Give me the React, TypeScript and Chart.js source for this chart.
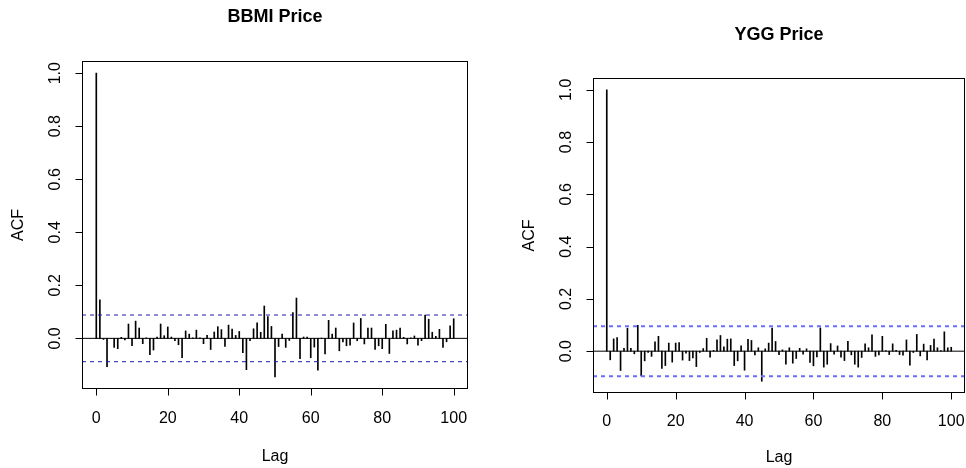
import React, { useEffect, useRef } from "react";
import { Chart, registerables } from "chart.js";
Chart.register(...registerables);

// ACF values, lag 0..100
const bbmiAcf = [
  1.0, 0.145, -0.004, -0.107, 0.0, -0.034, -0.039, 0.004, -0.006, 0.054,
  -0.028, 0.065, 0.039, -0.02, 0.002, -0.062, -0.044, 0.005, 0.054, 0.01,
  0.043, 0.005, -0.009, -0.024, -0.073, 0.028, 0.016, 0.002, 0.031, 0.002,
  -0.02, 0.011, -0.042, 0.024, 0.044, 0.033, -0.03, 0.05, 0.035, 0.011,
  0.026, -0.054, -0.118, -0.009, 0.036, 0.059, 0.023, 0.122, 0.082, 0.045,
  -0.145, -0.031, 0.016, -0.034, -0.008, 0.097, 0.152, -0.077, 0.005, 0.005,
  -0.073, -0.033, -0.12, 0.001, -0.059, 0.068, 0.016, 0.039, -0.047, -0.013,
  -0.028, -0.026, 0.058, -0.009, 0.075, -0.021, 0.039, 0.039, -0.042, -0.028,
  -0.039, 0.053, -0.057, 0.028, 0.031, 0.039, 0.004, -0.021, 0.002, 0.009,
  -0.026, -0.009, 0.088, 0.072, 0.023, 0.008, 0.034, -0.034, -0.013, 0.047,
  0.074,
];

const yggAcf = [
  1.0, -0.033, 0.047, 0.052, -0.074, 0.011, 0.088, 0.011, -0.01, 0.099,
  -0.095, -0.037, -0.005, -0.02, 0.036, 0.057, -0.066, -0.055, 0.031, -0.042,
  0.031, 0.033, -0.034, -0.008, -0.036, -0.026, -0.059, -0.005, 0.01, 0.049,
  -0.023, 0.003, 0.043, 0.06, 0.017, 0.046, 0.047, -0.055, -0.037, 0.02,
  -0.073, 0.045, 0.041, -0.014, 0.013, -0.115, 0.009, 0.031, 0.088, 0.037,
  -0.013, 0.005, -0.05, 0.013, -0.046, -0.028, 0.011, -0.011, 0.009, -0.043,
  -0.056, -0.022, 0.089, -0.061, -0.05, 0.029, -0.011, 0.02, -0.023, -0.036,
  0.038, -0.014, -0.05, -0.061, -0.024, 0.028, 0.013, 0.063, -0.02, -0.014,
  0.057, 0.002, -0.013, 0.028, 0.003, -0.013, -0.015, 0.043, -0.054, -0.005,
  0.064, -0.018, 0.027, -0.033, 0.022, 0.046, 0.013, 0.002, 0.074, 0.013,
  0.015,
];

const xTickValues = [0, 20, 40, 60, 80, 100];
const xTickLabels = ["0", "20", "40", "60", "80", "100"];
const yTickValues = [0, 0.2, 0.4, 0.6, 0.8, 1.0];
const yTickLabels = ["0.0", "0.2", "0.4", "0.6", "0.8", "1.0"];
const bbmiCi = 0.088;
const yggCi = 0.0957;

const FONT = '"Liberation Sans", Arial, Helvetica, sans-serif';

type Spec = {
  title: string;
  acf: number[];
  ci: number;
  ciColor: string;
  ciWidth: number;
  yMin: number;
  yMax: number;
  padding: { left: number; top: number; right: number; bottom: number };
  titleGap: number;
  xLabelGap: number;
  lagGap: number;
};

function rAxesPlugin(spec: Spec) {
  return {
    id: "rAxes",
    afterDraw(chart: any) {
      const ctx = chart.ctx as CanvasRenderingContext2D;
      const { left, right, top, bottom } = chart.chartArea;
      const xs = chart.scales.x;
      const ys = chart.scales.y;
      const L = Math.round(left) + 0.5;
      const R = Math.round(right) - 0.5;
      const T = Math.round(top) + 0.5;
      const B = Math.round(bottom) - 0.5;
      ctx.save();
      ctx.strokeStyle = "#000";
      ctx.fillStyle = "#000";
      ctx.lineWidth = 1;
      ctx.setLineDash([]);
      ctx.strokeRect(L, T, R - L, B - T);

      // x axis
      ctx.beginPath();
      const xa = Math.round(xs.getPixelForValue(xTickValues[0])) + 0.5;
      const xb = Math.round(xs.getPixelForValue(xTickValues[xTickValues.length - 1])) + 0.5;
      ctx.moveTo(xa, B);
      ctx.lineTo(xb, B);
      xTickValues.forEach((v) => {
        const px = Math.round(xs.getPixelForValue(v)) + 0.5;
        ctx.moveTo(px, B);
        ctx.lineTo(px, B + 7);
      });
      // y axis
      const ya = Math.round(ys.getPixelForValue(yTickValues[0])) + 0.5;
      const yb = Math.round(ys.getPixelForValue(yTickValues[yTickValues.length - 1])) + 0.5;
      ctx.moveTo(L, ya);
      ctx.lineTo(L, yb);
      yTickValues.forEach((v) => {
        const py = Math.round(ys.getPixelForValue(v)) + 0.5;
        ctx.moveTo(L, py);
        ctx.lineTo(L - 7, py);
      });
      ctx.stroke();

      ctx.font = `16px ${FONT}`;
      ctx.textAlign = "center";
      ctx.textBaseline = "middle";
      xTickValues.forEach((v, i) => {
        ctx.fillText(xTickLabels[i], xs.getPixelForValue(v), B + spec.xLabelGap);
      });
      ctx.fillText("Lag", (L + R) / 2, B + spec.lagGap);
      yTickValues.forEach((v, i) => {
        ctx.save();
        ctx.translate(L - 27, ys.getPixelForValue(v));
        ctx.rotate(-Math.PI / 2);
        ctx.fillText(yTickLabels[i], 0, 0);
        ctx.restore();
      });
      ctx.save();
      ctx.translate(L - 64, (T + B) / 2);
      ctx.rotate(-Math.PI / 2);
      ctx.fillText("ACF", 0, 0);
      ctx.restore();

      ctx.font = `bold 18px ${FONT}`;
      ctx.fillText(spec.title, (L + R) / 2, T - spec.titleGap);
      ctx.restore();
    },
  };
}

function AcfPanel({ spec, left }: { spec: Spec; left: number }) {
  const ref = useRef<HTMLCanvasElement>(null);
  useEffect(() => {
    if (!ref.current) return;
    const line = (y: number, color: string, width: number, dash: number[]) => ({
      type: "line" as const,
      data: [
        { x: -4, y },
        { x: 104, y },
      ],
      borderColor: color,
      borderWidth: width,
      borderDash: dash,
      pointRadius: 0,
      order: 1,
    });
    const chart = new Chart(ref.current, {
      type: "bar",
      data: {
        datasets: [
          line(0, "#000", 1, []),
          line(spec.ci, spec.ciColor, spec.ciWidth, [4, 4]),
          line(-spec.ci, spec.ciColor, spec.ciWidth, [4, 4]),
          {
            type: "bar",
            data: spec.acf.map((v, i) => ({ x: i, y: v })),
            backgroundColor: "#000",
            borderWidth: 0,
            barThickness: 1,
            order: 2,
          } as any,
        ],
      } as any,
      options: {
        responsive: false,
        animation: false,
        events: [],
        layout: { padding: spec.padding },
        plugins: {
          legend: { display: false },
          tooltip: { enabled: false },
          title: { display: false },
        },
        scales: {
          x: { type: "linear", min: -4, max: 104, offset: false, display: false },
          y: { type: "linear", min: spec.yMin, max: spec.yMax, display: false },
        },
      },
      plugins: [rAxesPlugin(spec)],
    });
    return () => chart.destroy();
  }, []);
  return (
    <canvas
      ref={ref}
      width={483}
      height={468}
      style={{ position: "absolute", left, top: 0, width: 483, height: 468 }}
    />
  );
}

const bbmiSpec: Spec = {
  title: "BBMI Price",
  acf: bbmiAcf,
  ci: bbmiCi,
  ciColor: "#1c1c9c",
  ciWidth: 1,
  yMin: -0.191,
  yMax: 1.046,
  padding: { left: 82, top: 61, right: 15, bottom: 79 },
  titleGap: 44,
  xLabelGap: 30,
  lagGap: 68,
};

const yggSpec: Spec = {
  title: "YGG Price",
  acf: yggAcf,
  ci: yggCi,
  ciColor: "#6c6cff",
  ciWidth: 2,
  yMin: -0.16,
  yMax: 1.045,
  padding: { left: 110, top: 78, right: 1, bottom: 75 },
  titleGap: 43,
  xLabelGap: 29,
  lagGap: 65,
};

export default function App() {
  return (
    <div
      style={{
        position: "absolute",
        left: 0,
        top: 0,
        width: 966,
        height: 468,
        background: "#fff",
        overflow: "hidden",
      }}
    >
      <AcfPanel spec={bbmiSpec} left={0} />
      <AcfPanel spec={yggSpec} left={483} />
    </div>
  );
}
